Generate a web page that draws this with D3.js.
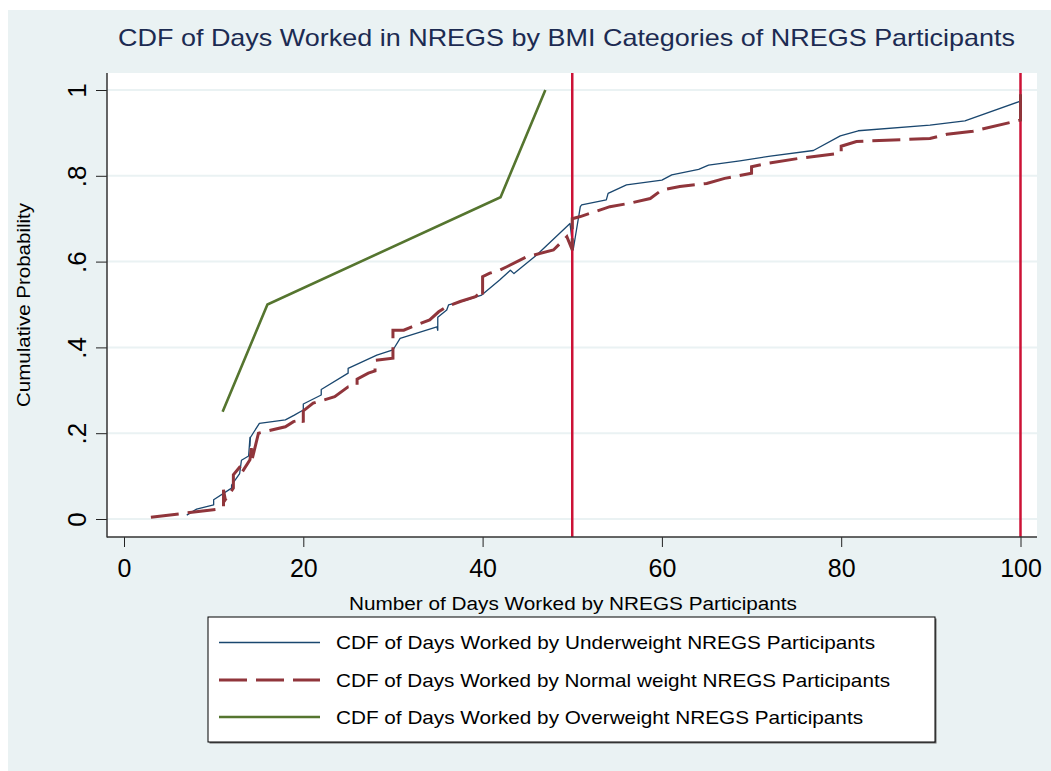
<!DOCTYPE html>
<html><head><meta charset="utf-8">
<script src="https://cdn.jsdelivr.net/npm/d3@7"></script>
<style>body{margin:0;background:#fff}svg{display:block;font-family:"Liberation Sans",Arial,sans-serif}</style>
</head><body><svg id="c" width="1051" height="771"></svg>
<script>
// ---- data ----
const xTicks = [0, 20, 40, 60, 80, 100];
const yTicks = [0, 0.2, 0.4, 0.6, 0.8, 1];
const yTickLabels = ["0", ".2", ".4", ".6", ".8", "1"];
const refLines = [50, 100];

const underDays = [7, 8.1, 10, 10, 12, 12, 12.9, 13.1, 13.9, 14.05, 14.05, 14.1, 15.1, 18, 19, 20, 20, 22, 22, 25, 25, 28.2, 30, 30.8, 34.9, 35, 35, 36, 36.2, 38.2, 39.9, 41.9, 43.1, 43.5, 46, 49.75, 50.1, 50.9, 51.05, 53.8, 54, 56.05, 60, 61.1, 64.1, 65.2, 68.7, 72.1, 76.9, 79.9, 81.9, 89.9, 93.8, 100, 100];
const underProb = [0.009, 0.023, 0.033, 0.045, 0.072, 0.079, 0.106, 0.137, 0.147, 0.19, 0.17, 0.19, 0.223, 0.231, 0.242, 0.254, 0.268, 0.289, 0.302, 0.34, 0.351, 0.382, 0.394, 0.421, 0.448, 0.44, 0.47, 0.487, 0.499, 0.51, 0.522, 0.557, 0.58, 0.572, 0.615, 0.689, 0.627, 0.728, 0.732, 0.744, 0.759, 0.779, 0.79, 0.802, 0.815, 0.825, 0.835, 0.846, 0.859, 0.893, 0.905, 0.918, 0.928, 0.974, 1.0];

const normalDays = [3, 10.5, 11.1, 11.1, 11.3, 12.2, 12.2, 13.1, 13.2, 14.05, 14.2, 14.3, 15, 18, 18.9, 19.9, 20, 20, 21.1, 23.5, 25, 26, 26, 27.25, 28, 28, 30, 30, 31.2, 32.1, 34.1, 35.1, 36, 37.5, 39.2, 39.9, 40, 40, 40.8, 41.9, 42.7, 44.9, 47.9, 49.4, 50, 50, 50.9, 54.2, 56.4, 58.7, 60, 62, 65, 67, 70, 70, 71.7, 75.4, 80, 80, 81.7, 89.9, 91.8, 94.7, 100, 100];
const normalProb = [0.004, 0.023, 0.029, 0.068, 0.045, 0.072, 0.103, 0.126, 0.11, 0.138, 0.165, 0.14, 0.2, 0.215, 0.227, 0.232, 0.225, 0.252, 0.27, 0.285, 0.308, 0.312, 0.326, 0.34, 0.345, 0.37, 0.375, 0.44, 0.44, 0.448, 0.464, 0.483, 0.495, 0.507, 0.518, 0.53, 0.522, 0.565, 0.573, 0.58, 0.588, 0.611, 0.627, 0.658, 0.627, 0.7, 0.705, 0.728, 0.736, 0.747, 0.767, 0.775, 0.782, 0.794, 0.806, 0.821, 0.829, 0.841, 0.853, 0.869, 0.88, 0.887, 0.897, 0.904, 0.93, 1.0];

const overDays = [11, 16, 42, 47];
const overProb = [0.25, 0.5, 0.75, 1.0];

const seriesNames = [
  "CDF of Days Worked by Underweight NREGS Participants",
  "CDF of Days Worked by Normal weight NREGS Participants",
  "CDF of Days Worked by Overweight NREGS Participants"
];
const titleText = "CDF of Days Worked in NREGS by BMI Categories of NREGS Participants";
const xTitle = "Number of Days Worked by NREGS Participants";
const yTitle = "Cumulative Probability";

// ---- drawing ----
const W = 1051, H = 771;
const svg = d3.select("#c");
svg.append("rect").attr("x", 8).attr("y", 10).attr("width", W - 8).attr("height", H - 10).attr("fill", "#eaf2f3");

const P = {l: 107, t: 73, r: 1037, b: 537};
svg.append("rect").attr("x", P.l).attr("y", P.t).attr("width", P.r - P.l).attr("height", P.b - P.t).attr("fill", "#fff");

const x = d3.scaleLinear().domain([0, 100]).range([124, 1020.5]);
const y = d3.scaleLinear().domain([0, 1]).range([519, 90]);

// gridlines
svg.append("g").selectAll("line").data(yTicks).join("line")
  .attr("x1", P.l).attr("x2", P.r).attr("y1", d => y(d)).attr("y2", d => y(d))
  .attr("stroke", "#eaf2f3").attr("stroke-width", 2);

const line = d3.line().x(d => x(d[0])).y(d => y(d[1]));
const zip = (a, b) => a.map((v, i) => [v, b[i]]);

// series
svg.append("path").datum(zip(underDays, underProb)).attr("d", line)
  .attr("fill", "none").attr("stroke", "#1a476f").attr("stroke-width", 1.3).attr("stroke-linejoin", "round");
svg.append("path").datum(zip(overDays, overProb)).attr("d", line)
  .attr("fill", "none").attr("stroke", "#55752f").attr("stroke-width", 2.6);

// reference lines
svg.append("g").selectAll("line").data(refLines).join("line")
  .attr("x1", d => x(d)).attr("x2", d => x(d)).attr("y1", P.t).attr("y2", P.b)
  .attr("stroke", "#cc1236").attr("stroke-width", 2.5);

svg.append("path").datum(zip(normalDays, normalProb)).attr("d", line)
  .attr("fill", "none").attr("stroke", "#90353b").attr("stroke-width", 3).attr("stroke-dasharray", "28,9");

// axes
const yAxis = svg.append("g").attr("transform", `translate(${P.l},0)`)
  .call(d3.axisLeft(y).tickValues(yTicks).tickFormat((d, i) => yTickLabels[i]).tickSize(11));
yAxis.select(".domain").remove();
yAxis.selectAll(".tick line").attr("stroke", "#222");
yAxis.selectAll(".tick text").attr("transform", "rotate(-90)").attr("x", 0).attr("y", -21).attr("dy", 0)
  .attr("text-anchor", "middle").attr("font-size", 26).attr("fill", "#000").attr("font-family", "Liberation Sans, Arial, sans-serif");

const xAxis = svg.append("g").attr("transform", `translate(0,${P.b})`)
  .call(d3.axisBottom(x).tickValues(xTicks).tickFormat(d3.format("d")).tickSize(10));
xAxis.select(".domain").remove();
xAxis.selectAll(".tick line").attr("stroke", "#222");
xAxis.selectAll(".tick text").attr("y", 40).attr("dy", 0).attr("font-size", 25).attr("fill", "#000")
  .attr("font-family", "Liberation Sans, Arial, sans-serif");

svg.append("line").attr("x1", P.l).attr("x2", P.l).attr("y1", P.t).attr("y2", P.b + 0.5).attr("stroke", "#333").attr("stroke-width", 1.5);
svg.append("line").attr("x1", P.l).attr("x2", P.r).attr("y1", P.b).attr("y2", P.b).attr("stroke", "#333").attr("stroke-width", 1.5);

// titles
svg.append("text").attr("x", 566.5).attr("y", 46).attr("text-anchor", "middle").attr("font-size", 24)
  .attr("fill", "#1c2b52").attr("textLength", 897).attr("lengthAdjust", "spacingAndGlyphs").text(titleText);
svg.append("text").attr("x", 573).attr("y", 610).attr("text-anchor", "middle").attr("font-size", 18)
  .attr("fill", "#000").attr("textLength", 448).attr("lengthAdjust", "spacingAndGlyphs").text(xTitle);
svg.append("text").attr("transform", "translate(30,305) rotate(-90)").attr("text-anchor", "middle").attr("font-size", 18)
  .attr("fill", "#000").attr("textLength", 204).attr("lengthAdjust", "spacingAndGlyphs").text(yTitle);

// legend
const L = {x: 208, y: 617, w: 727, h: 125};
svg.append("rect").attr("x", L.x + 1.5).attr("y", L.y + 1.5).attr("width", L.w).attr("height", L.h).attr("fill", "#666");
svg.append("rect").attr("x", L.x).attr("y", L.y).attr("width", L.w).attr("height", L.h).attr("fill", "#fff").attr("stroke", "#000").attr("stroke-width", 1);
const legStyles = [
  {c: "#1a476f", w: 1.3, dash: null},
  {c: "#90353b", w: 3, dash: "28,9"},
  {c: "#55752f", w: 2.6, dash: null}
];
const rowY = [642.5, 680, 717];
const textW = [539, 554, 527];
seriesNames.forEach((name, i) => {
  const g = svg.append("g");
  g.append("line").attr("x1", 219).attr("x2", 320).attr("y1", rowY[i]).attr("y2", rowY[i])
    .attr("stroke", legStyles[i].c).attr("stroke-width", legStyles[i].w).attr("stroke-dasharray", legStyles[i].dash);
  g.append("text").attr("x", 336).attr("y", rowY[i] + 6.5).attr("font-size", 19).attr("fill", "#000")
    .attr("textLength", textW[i]).attr("lengthAdjust", "spacingAndGlyphs").text(name);
});
</script>
</body></html>
